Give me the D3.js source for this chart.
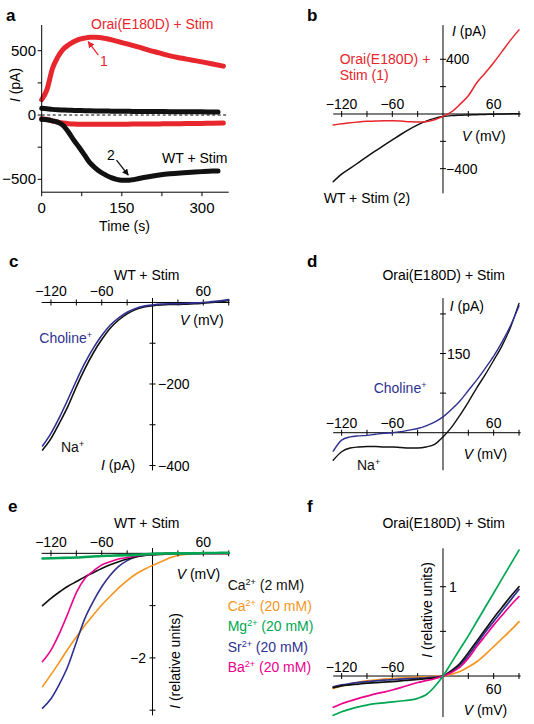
<!DOCTYPE html>
<html><head><meta charset="utf-8">
<script src="https://cdn.jsdelivr.net/npm/d3@7"></script>
<style>
body{margin:0;background:#fff;}
svg{display:block;font-family:"Liberation Sans",Arial,Helvetica,sans-serif;}
</style></head><body>
<svg id="chart" width="534" height="724"></svg>
<script>
// ---------- DATA ----------
// Panel a: time courses
const timeOrai = [0,10,20,30,40,50,60,70,80,90,100,120,140,160,180,200,220,240,260,280,300,320,340];
const oraiOutward = [120,200,360,450,510,545,570,588,598,605,605,595,575,553,530,505,483,460,443,428,413,397,380];
const oraiInward = [-28,-35,-45,-55,-62,-67,-70,-71,-72,-72,-72,-72,-71,-71,-70,-70,-69,-68,-67,-66,-65,-63,-62];
const timeWT = [0,10,20,30,40,50,60,70,80,90,100,110,120,130,140,150,160,170,180,200,220,240,260,280,300,320,330];
const wtOutward = [52,48,44,41,39,37,36,35,34,33,32,31,31,30,30,29,29,28,28,27,27,26,26,25,25,24,24];
const wtInward = [-33,-36,-45,-55,-80,-132,-195,-250,-310,-370,-410,-443,-467,-487,-500,-507,-508,-503,-495,-480,-467,-457,-450,-445,-440,-436,-435];
const timeTicks = [0,150,300];
const timeMinor = [75,225];
const currentTicksA = [-500,0,500];
const currentMinorA = [-250,250];

// shared voltage axis (mV) for b-f
const voltage = [-130,-120,-110,-100,-90,-80,-70,-60,-50,-40,-30,-20,-10,0,10,20,30,40,50,60,70,80,90];
const vTickLabels = [-120,-60,60];
const vTicks = [-120,-90,-60,-30,30,60,90];

// Panel b
const bOrai = [-80,-72,-64,-58,-54,-52,-50,-50,-52,-56,-59,-56,-42,-17,15,70,133,228,300,375,458,540,615];
const bWT = [-495,-440,-398,-355,-312,-270,-230,-190,-150,-113,-80,-52,-32,-19,-12,-9,-7,-5,-3,-2,0,1,2];
const bTicks = [-400,-200,200,400];
// Panel c (WT + Stim)
const cNa = [-362,-334,-296,-255,-207,-163,-124,-91,-63,-43,-28,-17,-11,-8,-6,-5,-5,-4,-3,-2,0,2,5];
const cCholine = [-352,-321,-282,-238,-192,-149,-112,-81,-56,-38,-24,-15,-9,-6,-4,-3,-3,-2,-1,0,2,4,7];
const cTicks = [-100,-200,-300,-400];
// Panel d (Orai(E180D) + Stim)
const dNa = [-52,-36,-29,-27,-26,-26,-27,-27,-28,-29,-29,-27,-22,-8,10,33,58,85,110,137,165,200,245];
const dCholine = [-35,-14,-8,-6,-5,-3,-1,0,2,5,8,13,20,30,44,60,80,100,122,145,172,203,240];
const dTicks = [75,150,225];
// Panel e (WT + Stim), relative units
const eCa2 = [-1.00,-0.86,-0.74,-0.63,-0.54,-0.45,-0.37,-0.29,-0.22,-0.16,-0.11,-0.07,-0.04,-0.03,-0.02,-0.01,0,0,0,0,0,0,0];
const eCa20 = [-2.55,-2.32,-2.08,-1.83,-1.60,-1.38,-1.18,-0.99,-0.82,-0.66,-0.52,-0.40,-0.31,-0.23,-0.16,-0.09,-0.04,-0.02,-0.01,0,0,0,0];
const eMg = [-0.10,-0.095,-0.09,-0.085,-0.08,-0.07,-0.06,-0.05,-0.045,-0.04,-0.035,-0.03,-0.02,-0.01,-0.005,0,0,0,0,0.005,0.005,0.01,0.01];
const eSr = [-2.96,-2.78,-2.50,-2.16,-1.70,-1.25,-0.92,-0.64,-0.42,-0.25,-0.14,-0.07,-0.04,-0.02,-0.01,0,0,0,0,0,0,0,0];
const eBa = [-2.07,-1.85,-1.53,-1.15,-0.75,-0.48,-0.34,-0.22,-0.16,-0.11,-0.08,-0.05,-0.03,-0.02,-0.01,0,0,0,0,0,0,0,0];
const eTicks = [-1,-2,-3];
// Panel f (Orai(E180D) + Stim), relative units
const fCa2 = [-0.13,-0.11,-0.10,-0.09,-0.08,-0.075,-0.068,-0.063,-0.055,-0.045,-0.037,-0.03,-0.02,0,0.06,0.14,0.26,0.39,0.52,0.65,0.77,0.89,1.0];
const fCa20 = [-0.14,-0.11,-0.09,-0.07,-0.055,-0.045,-0.035,-0.028,-0.022,-0.017,-0.013,-0.01,-0.005,0,0.02,0.05,0.10,0.16,0.24,0.33,0.42,0.51,0.61];
const fMg = [-0.44,-0.40,-0.37,-0.345,-0.325,-0.31,-0.30,-0.29,-0.28,-0.27,-0.25,-0.21,-0.12,0,0.15,0.30,0.45,0.61,0.77,0.93,1.09,1.25,1.41];
const fSr = [-0.12,-0.10,-0.085,-0.072,-0.062,-0.054,-0.047,-0.04,-0.035,-0.03,-0.025,-0.02,-0.013,0,0.05,0.12,0.23,0.36,0.49,0.61,0.73,0.85,0.97];
const fBa = [-0.35,-0.31,-0.28,-0.25,-0.225,-0.20,-0.18,-0.157,-0.13,-0.10,-0.073,-0.052,-0.03,0,0.04,0.10,0.20,0.33,0.45,0.57,0.68,0.79,0.89];
const fTicks = [0.5,1];

const ionNames = ["Ca","Ca","Mg","Sr","Ba"];
const ionConc = [" (2 mM)"," (20 mM)"," (20 mM)"," (20 mM)"," (20 mM)"];

// ---------- STYLE ----------
const RED="#e8262d", NAVY="#2e3192", ORANGE="#f7941d", GREEN="#00a651", MAGENTA="#ec008c", BLACK="#111";
const ionColors=[BLACK,ORANGE,GREEN,NAVY,MAGENTA];
const MINUS="\u2212";
const fmt = v => (v<0?MINUS:"")+Math.abs(v);

const svg = d3.select("#chart");

function txt(x,y,s,o={}){
  return svg.append("text").attr("x",x).attr("y",y).attr("font-size",o.size||14)
    .attr("fill",o.fill||"#000").attr("text-anchor",o.anchor||"start")
    .attr("font-weight",o.weight||"normal").text(s);
}
function axisLabel(x,y,letter,unit,o={}){
  const t=svg.append("text").attr("font-size",14).attr("fill","#000").attr("text-anchor",o.anchor||"start");
  if(o.rotate){t.attr("transform",`translate(${x},${y}) rotate(-90)`);} else {t.attr("x",x).attr("y",y);}
  t.append("tspan").attr("font-style","italic").text(letter);
  t.append("tspan").text(" "+unit);
  return t;
}
function supText(x,y,base,sup,rest,color){
  const t=svg.append("text").attr("x",x).attr("y",y).attr("font-size",14).attr("fill",color);
  t.append("tspan").text(base);
  t.append("tspan").attr("font-size",9).attr("dy",-5).text(sup);
  if(rest) t.append("tspan").attr("dy",5).text(rest);
  return t;
}
function hAxis(x,yp,d0,d1,ticks,mode){
  const g=svg.append("g").attr("stroke","#000").attr("stroke-width",1);
  g.append("line").attr("x1",x(d0)).attr("x2",x(d1)).attr("y1",yp).attr("y2",yp);
  ticks.forEach(t=>g.append("line").attr("x1",x(t)).attr("x2",x(t))
    .attr("y1",mode==="out"?yp:yp-3).attr("y2",mode==="out"?yp+4:yp+3));
}
function vAxis(xp,y,d0,d1,ticks,mode){
  const g=svg.append("g").attr("stroke","#000").attr("stroke-width",1);
  g.append("line").attr("x1",xp).attr("x2",xp).attr("y1",y(d0)).attr("y2",y(d1));
  ticks.forEach(t=>g.append("line").attr("y1",y(t)).attr("y2",y(t))
    .attr("x1",mode==="out"?xp-4:xp-3).attr("x2",mode==="out"?xp:xp+3));
}
function curve(xs,ys,x,y,color,w){
  const line=d3.line().x(d=>x(d[0])).y(d=>y(d[1])).curve(d3.curveMonotoneX);
  svg.append("path").attr("d",line(xs.map((v,i)=>[v,ys[i]]))).attr("fill","none")
    .attr("stroke",color).attr("stroke-width",w).attr("stroke-linecap","round").attr("stroke-linejoin","round");
}

// arrow markers
const defs=svg.append("defs");
[["arRed",RED],["arBlack",BLACK]].forEach(([id,c])=>{
  defs.append("marker").attr("id",id).attr("viewBox","0 0 10 10").attr("refX",9).attr("refY",5)
    .attr("markerWidth",5).attr("markerHeight",5).attr("orient","auto")
    .append("path").attr("d","M0,0 L10,5 L0,10 z").attr("fill",c);
});

// ---------- PANEL A ----------
const xA=d3.scaleLinear().domain([0,350]).range([41.7,228.7]);
const yA=d3.scaleLinear().domain([-600,700]).range([192.2,25]);
svg.append("line").attr("x1",xA(0)).attr("x2",xA(350)).attr("y1",yA(0)).attr("y2",yA(0))
  .attr("stroke","#000").attr("stroke-width",1).attr("stroke-dasharray","3,2.5");
curve(timeWT,wtOutward,xA,yA,BLACK,5);
curve(timeOrai,oraiInward,xA,yA,RED,5);
curve(timeOrai,oraiOutward,xA,yA,RED,5);
curve(timeWT,wtInward,xA,yA,BLACK,5);
vAxis(xA(0),yA,-600,700,currentTicksA.concat(currentMinorA),"out");
hAxis(xA,yA(-600),0,350,timeTicks.concat(timeMinor),"out");
currentTicksA.forEach(v=>txt(36,yA(v)+5,fmt(v),{anchor:"end",size:15}));
timeTicks.forEach(v=>txt(xA(v),213,fmt(v),{anchor:"middle",size:15}));
txt(xA(155),231,"Time (s)",{anchor:"middle"});
axisLabel(20,85,"I","(pA)",{rotate:true,anchor:"middle"});
txt(91,29,"Orai(E180D) + Stim",{fill:RED});
txt(162,163,"WT + Stim");
txt(100,66,"1",{fill:RED});
txt(107,160,"2");
svg.append("line").attr("x1",xA(106)).attr("y1",yA(465)).attr("x2",xA(87)).attr("y2",yA(570))
  .attr("stroke",RED).attr("stroke-width",1.3).attr("marker-end","url(#arRed)");
svg.append("line").attr("x1",xA(140)).attr("y1",yA(-350)).attr("x2",xA(162)).attr("y2",yA(-467))
  .attr("stroke",BLACK).attr("stroke-width",1.3).attr("marker-end","url(#arBlack)");
txt(6,20.5,"a",{weight:"bold",size:17});

// ---------- PANEL B ----------
const xR=d3.scaleLinear().domain([-130,90]).range([333.2,519]);
const yB=d3.scaleLinear().domain([-580,650]).range([193.3,25.1]);
hAxis(xR,yB(0),-130,92,vTicks);
vAxis(xR(0),yB,-580,650,bTicks);
curve(voltage,bWT,xR,yB,BLACK,1.5);
curve(voltage,bOrai,xR,yB,RED,1.5);
vTickLabels.forEach(v=>txt(xR(v),108.5,fmt(v),{anchor:"middle"}));
[400,-400].forEach(v=>txt(446,yB(v)+5,fmt(v)));
axisLabel(452,36,"I","(pA)");
axisLabel(462,141,"V","(mV)");
txt(339.7,64,"Orai(E180D) +",{fill:RED});
txt(339.7,80,"Stim (1)",{fill:RED});
txt(323.7,203,"WT + Stim (2)");
txt(307,20.5,"b",{weight:"bold",size:17});

// ---------- PANEL C ----------
const xL=d3.scaleLinear().domain([-130,90]).range([42.5,228.7]);
const yC=d3.scaleLinear().domain([-412,11]).range([470.4,298]);
hAxis(xL,yC(0),-131,91,vTicks);
vAxis(xL(0),yC,-412,11,cTicks);
curve(voltage,cNa,xL,yC,BLACK,1.6);
curve(voltage,cCholine,xL,yC,NAVY,1.6);
vTickLabels.forEach(v=>txt(xL(v),296,fmt(v),{anchor:"middle"}));
[-200,-400].forEach(v=>txt(158,yC(v)+5,fmt(v)));
txt(146.7,279.5,"WT + Stim",{anchor:"middle"});
axisLabel(180,325,"V","(mV)");
axisLabel(101,470,"I","(pA)");
supText(39.3,343,"Choline","+",null,NAVY);
supText(61,451.5,"Na","+",null,BLACK);
txt(9,266.7,"c",{weight:"bold",size:17});

// ---------- PANEL D ----------
const yD=d3.scaleLinear().domain([-71,255]).range([470.2,298.1]);
hAxis(xR,yD(0),-130,92,vTicks);
vAxis(xR(0),yD,-71,255,dTicks);
curve(voltage,dNa,xR,yD,BLACK,1.4);
curve(voltage,dCholine,xR,yD,NAVY,1.4);
vTickLabels.forEach(v=>txt(xR(v),428,fmt(v),{anchor:"middle"}));
txt(447,yD(150)+5,"150");
txt(443.7,279.5,"Orai(E180D) + Stim",{anchor:"middle"});
axisLabel(449.7,311,"I","(pA)");
axisLabel(463.7,459,"V","(mV)");
supText(373.7,393,"Choline","+",null,NAVY);
supText(357,470,"Na","+",null,BLACK);
txt(307,266.7,"d",{weight:"bold",size:17});

// ---------- PANEL E ----------
const yE=d3.scaleLinear().domain([-3.1,0.1]).range([715.4,548.1]);
vAxis(xL(0),yE,-3.1,0.1,eTicks);
const eSeries=[eCa2,eCa20,eMg,eSr,eBa];
curve(voltage,eCa20,xL,yE,ORANGE,1.6);
curve(voltage,eSr,xL,yE,NAVY,1.6);
curve(voltage,eCa2,xL,yE,BLACK,1.6);
curve(voltage,eBa,xL,yE,MAGENTA,1.6);
hAxis(xL,yE(0),-131,91,vTicks);
curve(voltage,eMg,xL,yE,GREEN,2.6);
vTickLabels.forEach(v=>txt(xL(v),547,fmt(v),{anchor:"middle"}));
txt(146,yE(-2)+5,fmt(-2),{anchor:"end"});
txt(146.7,528,"WT + Stim",{anchor:"middle"});
axisLabel(176.7,579,"V","(mV)");
axisLabel(180,661,"I","(relative units)",{rotate:true,anchor:"middle"});
ionNames.forEach((n,i)=>supText(227.7,590+i*20.5,n,"2+",ionConc[i],ionColors[i]));
txt(8,511.7,"e",{weight:"bold",size:17});

// ---------- PANEL F ----------
const yF=d3.scaleLinear().domain([-0.46,1.43]).range([717.1,548.3]);
hAxis(xR,yF(0),-130,92,vTicks);
vAxis(xR(0),yF,-0.46,1.43,fTicks);
curve(voltage,fCa20,xR,yF,ORANGE,1.7);
curve(voltage,fSr,xR,yF,NAVY,1.7);
curve(voltage,fCa2,xR,yF,BLACK,1.7);
curve(voltage,fBa,xR,yF,MAGENTA,1.7);
curve(voltage,fMg,xR,yF,GREEN,1.7);
[-120,-60].forEach(v=>txt(xR(v),671.5,fmt(v),{anchor:"middle"}));
txt(xR(60),694,"60",{anchor:"middle"});
txt(449,yF(1)+5,"1");
txt(443.7,528,"Orai(E180D) + Stim",{anchor:"middle"});
axisLabel(463.7,715,"V","(mV)");
axisLabel(432,610,"I","(relative units)",{rotate:true,anchor:"middle"});
txt(307,511.7,"f",{weight:"bold",size:17});
</script>
</body></html>
